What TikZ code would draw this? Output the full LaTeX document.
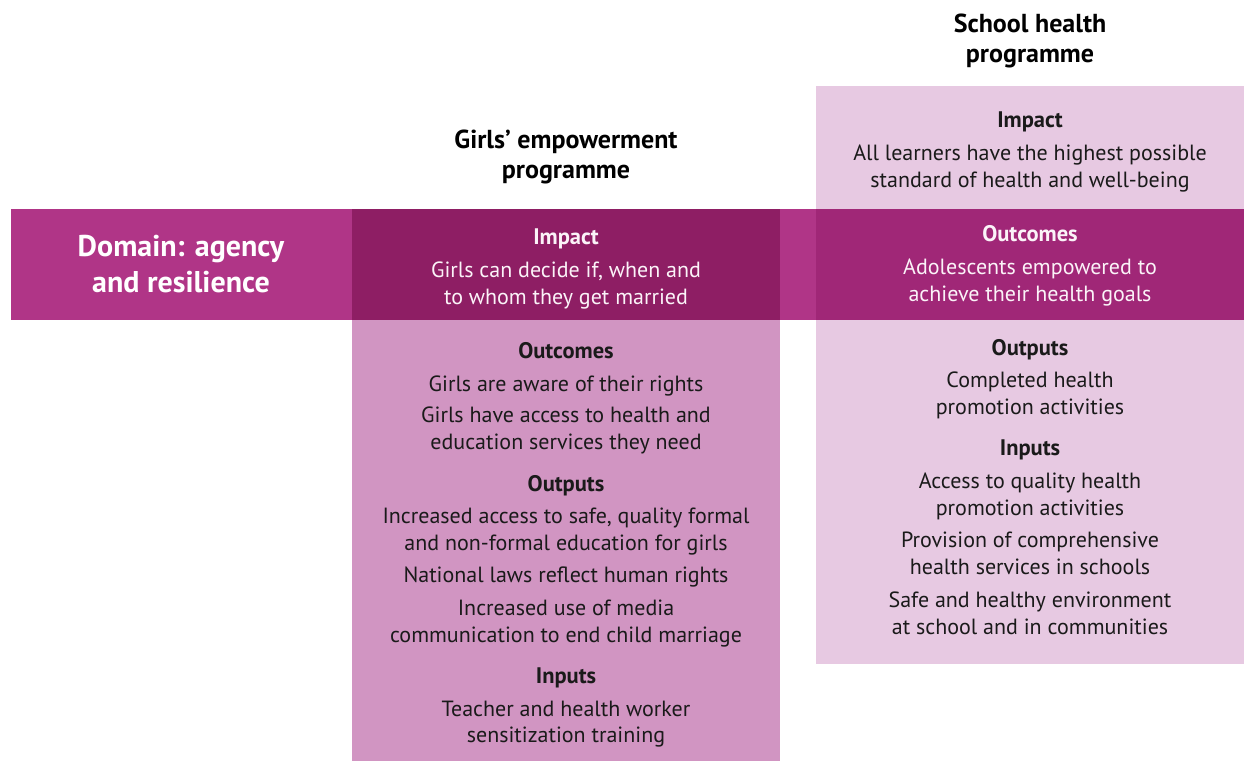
\documentclass[tikz,border=0pt]{standalone}
\usepackage{fontspec}
\setmainfont{PT Sans}
\definecolor{bandc}{HTML}{B03587}
\definecolor{gdark}{HTML}{8E1E64}
\definecolor{glight}{HTML}{D195C2}
\definecolor{slight}{HTML}{E7C9E2}
\definecolor{sband}{HTML}{A02777}
\definecolor{txt}{HTML}{1A1A1A}
\definecolor{wtxt}{HTML}{FBF3F8}
\tikzset{
  ln/.style={anchor=base, inner sep=0pt, font=\fontsize{22}{26}\selectfont, text=txt},
  hd/.style={ln, font=\fontsize{22.5}{26}\selectfont\bfseries},
  wln/.style={ln, text=wtxt},
  whd/.style={hd, text=wtxt},
  ttl/.style={anchor=base, inner sep=0pt, font=\fontsize{26}{30}\selectfont\bfseries, text=black},
  dom/.style={anchor=base, inner sep=0pt, font=\fontsize{30}{34}\selectfont\bfseries, text=white}
}
\begin{document}
\begin{tikzpicture}[x=1pt,y=-1pt]
\useasboundingbox (0,0) rectangle (1247,761);
% shapes
\fill[bandc] (11,209) rectangle (1244,320);
\fill[glight] (352,320) rectangle (780,761);
\fill[gdark] (352,209) rectangle (780,320);
\fill[slight] (816,86) rectangle (1244,664);
\fill[sband] (816,209) rectangle (1244,320);
% titles
\node[ttl] (st1) at (1030,32) {School health};
\node[ttl] (st2) at (1030,62) {programme};
\node[ttl] (gt1) at (566,148) {Girls’ empowerment};
\node[ttl] (gt2) at (566,178) {programme};
% domain
\node[dom] (d1) at (181,256) {Domain: agency};
\node[dom] (d2) at (181,292) {and resilience};
% girls band
\node[whd] (gi) at (566,244) {Impact};
\node[wln] (gi1) at (566,277) {Girls can decide if, when and};
\node[wln] (gi2) at (566,304) {to whom they get married};
% school band
\node[whd] (so) at (1030,241) {Outcomes};
\node[wln] (so1) at (1030,274) {Adolescents empowered to};
\node[wln] (so2) at (1030,301) {achieve their health goals};
% school impact
\node[hd] (si) at (1030,127) {Impact};
\node[ln] (si1) at (1030,160) {All learners have the highest possible};
\node[ln] (si2) at (1030,187) {standard of health and well-being};
% girls lower
\node[hd] (go) at (566,358) {Outcomes};
\node[ln] (go1) at (566,391) {Girls are aware of their rights};
\node[ln] (go2) at (566,422) {Girls have access to health and};
\node[ln] (go3) at (566,449) {education services they need};
\node[hd] (gp) at (566,491) {Outputs};
\node[ln] (gp1) at (566,523) {Increased access to safe, quality formal};
\node[ln] (gp2) at (566,550) {and non-formal education for girls};
\node[ln] (gp3) at (566,582) {National laws reflect human rights};
\node[ln] (gp4) at (566,615) {Increased use of media};
\node[ln] (gp5) at (566,642) {communication to end child marriage};
\node[hd] (gn) at (566,683) {Inputs};
\node[ln] (gn1) at (566,716) {Teacher and health worker};
\node[ln] (gn2) at (566,742) {sensitization training};
% school lower
\node[hd] (sp) at (1030,355) {Outputs};
\node[ln] (sp1) at (1030,387) {Completed health};
\node[ln] (sp2) at (1030,414) {promotion activities};
\node[hd] (sn) at (1030,455) {Inputs};
\node[ln] (sn1) at (1030,488) {Access to quality health};
\node[ln] (sn2) at (1030,515) {promotion activities};
\node[ln] (sn3) at (1030,547) {Provision of comprehensive};
\node[ln] (sn4) at (1030,574) {health services in schools};
\node[ln] (sn5) at (1030,607) {Safe and healthy environment};
\node[ln] (sn6) at (1030,634) {at school and in communities};
\end{tikzpicture}
\end{document}
